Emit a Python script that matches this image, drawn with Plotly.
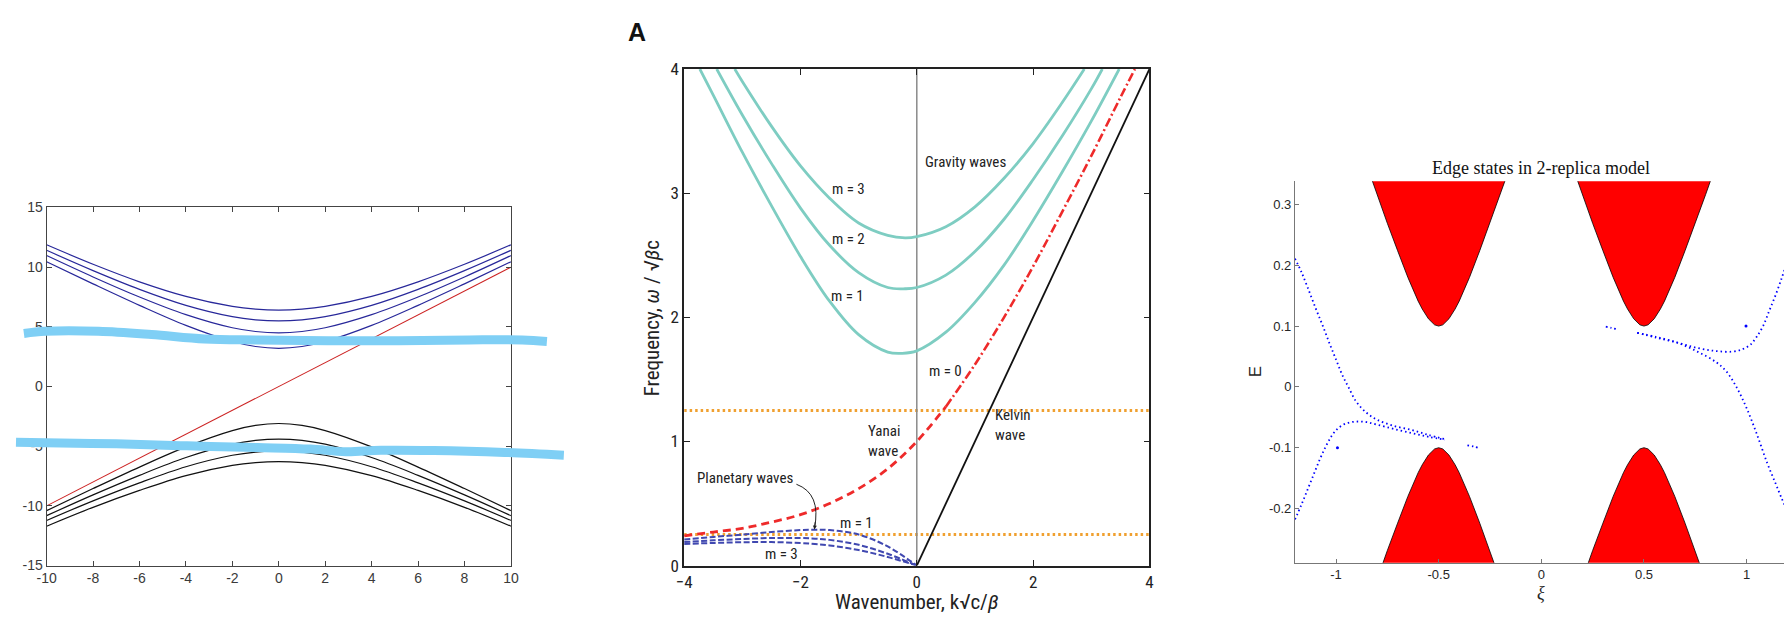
import plotly.graph_objects as go

W, H = 1792, 623

# ---------------- Panel 1 (left) data ----------------
p1_x = [-10, -8, -6, -4, -2, -1, 0, 1, 2, 4, 6, 8, 10]
blue_1 = [11.87, 10.24, 8.77, 7.55, 6.71, 6.48, 6.40, 6.48, 6.71, 7.55, 8.77, 10.24, 11.87]
blue_2 = [11.41, 9.71, 8.14, 6.80, 5.85, 5.59, 5.50, 5.59, 5.85, 6.80, 8.14, 9.71, 11.41]
blue_3 = [10.97, 9.18, 7.50, 6.02, 4.92, 4.61, 4.50, 4.61, 4.92, 6.02, 7.50, 9.18, 10.97]
blue_4 = [10.45, 8.60, 6.80, 5.12, 3.77, 3.35, 3.20, 3.35, 3.77, 5.12, 6.80, 8.60, 10.45]
black_1 = [-10.40, -8.55, -6.75, -5.06, -3.69, -3.26, -3.10, -3.26, -3.69, -5.06, -6.75, -8.55, -10.40]
black_2 = [-10.82, -9.08, -7.44, -5.95, -4.83, -4.51, -4.40, -4.51, -4.83, -5.95, -7.44, -9.08, -10.82]
black_3 = [-11.22, -9.58, -8.07, -6.72, -5.76, -5.49, -5.40, -5.49, -5.76, -6.72, -8.07, -9.58, -11.22]
black_4 = [-11.70, -10.12, -8.70, -7.46, -6.61, -6.38, -6.30, -6.38, -6.61, -7.46, -8.70, -10.12, -11.70]
red_x = [-10, 10]
red_y = [-10, 10]
# hand-drawn highlighter strokes
stroke1_x = [-10.98, -10.05, -7.76, -5.48, -3.20, -0.92, 2.12, 5.16, 8.20, 10.49, 11.55]
stroke1_y = [4.44, 4.62, 4.62, 4.35, 3.98, 3.90, 3.84, 3.84, 3.90, 3.90, 3.78]
stroke2_x = [-11.32, -10.05, -7.00, -3.96, -0.92, 1.36, 2.88, 4.40, 6.68, 9.73, 12.28]
stroke2_y = [-4.66, -4.72, -4.80, -4.97, -5.11, -5.24, -5.46, -5.34, -5.36, -5.52, -5.75]
p1_xticks = [-10, -8, -6, -4, -2, 0, 2, 4, 6, 8, 10]
p1_xlabels = ['-10', '-8', '-6', '-4', '-2', '0', '2', '4', '6', '8', '10']
p1_yticks = [-15, -10, -5, 0, 5, 10, 15]
p1_ylabels = ['-15', '-10', '-5', '0', '5', '10', '15']

# ---------------- Panel 2 (middle) data ----------------
grav1_k = [-3.73, -3.5, -3.0, -2.5, -2.0, -1.5, -1.0, -0.5, -0.25, 0.0, 0.5, 1.0, 1.5, 2.0, 2.5, 3.0, 3.48]
grav1_w = [4.00, 3.79, 3.33, 2.90, 2.49, 2.13, 1.86, 1.72, 1.71, 1.73, 1.88, 2.12, 2.42, 2.78, 3.17, 3.58, 4.00]
grav2_k = [-3.44, -3.0, -2.5, -2.0, -1.5, -1.0, -0.5, -0.2, 0.0, 0.5, 1.0, 1.5, 2.0, 2.5, 3.0, 3.19]
grav2_w = [4.00, 3.63, 3.24, 2.88, 2.58, 2.36, 2.24, 2.23, 2.24, 2.34, 2.53, 2.79, 3.11, 3.46, 3.84, 4.00]
grav3_k = [-3.13, -3.0, -2.5, -2.0, -1.5, -1.0, -0.5, -0.2, 0.0, 0.5, 1.0, 1.5, 2.0, 2.5, 2.88]
grav3_w = [4.00, 3.90, 3.54, 3.22, 2.96, 2.76, 2.66, 2.64, 2.65, 2.73, 2.89, 3.12, 3.40, 3.73, 4.00]
yanai_k_dash = [-4.0, -3.5, -3.0, -2.5, -2.0, -1.5, -1.0, -0.5, 0.0, 0.5]
yanai_w_dash = [0.24, 0.27, 0.30, 0.35, 0.41, 0.50, 0.62, 0.78, 1.00, 1.28]
yanai_k_dd = [0.5, 1.0, 1.5, 2.0, 2.5, 3.0, 3.5, 3.75]
yanai_w_dd = [1.28, 1.62, 2.00, 2.41, 2.85, 3.30, 3.77, 4.00]
plan_k = [-4.0, -3.5, -3.0, -2.5, -2.0, -1.75, -1.5, -1.0, -0.5, 0.0]
plan1_w = [0.210, 0.230, 0.250, 0.270, 0.286, 0.289, 0.286, 0.250, 0.154, 0.0]
plan2_w = [0.190, 0.203, 0.214, 0.222, 0.222, 0.217, 0.207, 0.167, 0.095, 0.0]
plan3_w = [0.174, 0.182, 0.188, 0.189, 0.182, 0.174, 0.162, 0.125, 0.069, 0.0]
kelvin_k = [0, 4]
kelvin_w = [0, 4]
orange_levels = [0.25, 1.25]
p2_xticks = [-4, -2, 0, 2, 4]
p2_yticks = [0, 1, 2, 3, 4]

# ---------------- Panel 3 (right) data ----------------
band_d = [0.0, 0.02, 0.05, 0.08, 0.10, 0.15, 0.20, 0.25, 0.30, 0.35, 0.40]
band_E = [0.100, 0.102, 0.112, 0.128, 0.141, 0.180, 0.224, 0.269, 0.316, 0.364, 0.412]
band_centers = [-0.5, 0.5]
edgeL1_xi = [-1.2, -1.17, -1.14, -1.10, -1.064, -1.03, -1.0, -0.97, -0.94, -0.90, -0.85, -0.80, -0.72, -0.63, -0.55, -0.47]
edgeL1_E = [0.211, 0.190, 0.165, 0.130, 0.100, 0.070, 0.045, 0.020, 0.000, -0.025, -0.043, -0.054, -0.064, -0.071, -0.079, -0.086]
edgeL2_xi = [-1.2, -1.17, -1.14, -1.11, -1.08, -1.05, -1.02, -0.99, -0.95, -0.90, -0.85, -0.80, -0.72, -0.63, -0.55, -0.47]
edgeL2_E = [-0.218, -0.195, -0.170, -0.145, -0.120, -0.098, -0.080, -0.068, -0.060, -0.057, -0.058, -0.062, -0.069, -0.076, -0.082, -0.087]
edgeL3_xi = [-0.36, -0.33, -0.31]
edgeL3_E = [-0.096, -0.098, -0.100]
edgeR1_xi = [0.467, 0.56, 0.66, 0.76, 0.85, 0.93, 0.98, 1.02, 1.05, 1.08, 1.11, 1.14, 1.17, 1.19]
edgeR1_E = [0.089, 0.081, 0.073, 0.064, 0.059, 0.058, 0.062, 0.070, 0.083, 0.100, 0.125, 0.150, 0.178, 0.198]
edgeR2_xi = [0.467, 0.56, 0.66, 0.76, 0.85, 0.90, 0.95, 1.00, 1.05, 1.10, 1.14, 1.169, 1.19]
edgeR2_E = [0.089, 0.082, 0.073, 0.058, 0.041, 0.026, 0.000, -0.035, -0.078, -0.125, -0.158, -0.182, -0.198]
edgeR3_xi = [0.314, 0.34, 0.368]
edgeR3_E = [0.099, 0.097, 0.095]
lone_xi = [-0.993, 0.997]
lone_E = [-0.100, 0.100]
p3_xticks = [-1, -0.5, 0, 0.5, 1]
p3_xlabels = ['-1', '-0.5', '0', '0.5', '1']
p3_yticks = [-0.2, -0.1, 0, 0.1, 0.2, 0.3]
p3_ylabels = ['-0.2', '-0.1', '0', '0.1', '0.2', '0.3']

# ---------------- styling ----------------
NARROW = "Liberation Sans Narrow, Arial Narrow, Roboto Condensed, Liberation Sans, sans-serif"
SANS = "Liberation Sans, Arial, sans-serif"
SERIF = "Liberation Serif, DejaVu Serif, serif"
NAVY = "#28289a"
TEAL = "#7ecdc2"
RED2 = "#ee2a2a"
PLAN = "#4048b0"
ORANGE = "#f0a030"

fig = go.Figure()

# ---- panel 1 ----
for ys in [blue_1, blue_2, blue_3, blue_4]:
    fig.add_trace(go.Scatter(x=p1_x, y=ys, mode="lines", xaxis="x", yaxis="y",
                             line=dict(color=NAVY, width=1.2, shape="spline"), showlegend=False))
for ys in [black_1, black_2, black_3, black_4]:
    fig.add_trace(go.Scatter(x=p1_x, y=ys, mode="lines", xaxis="x", yaxis="y",
                             line=dict(color="#111111", width=1.2, shape="spline"), showlegend=False))
fig.add_trace(go.Scatter(x=red_x, y=red_y, mode="lines", xaxis="x", yaxis="y",
                         line=dict(color="#cc2222", width=1.1), showlegend=False))
for sx, sy in [(stroke1_x, stroke1_y), (stroke2_x, stroke2_y)]:
    fig.add_trace(go.Scatter(x=sx, y=sy, mode="lines", xaxis="x4", yaxis="y4",
                             line=dict(color="#7fcff5", width=9, shape="spline"), showlegend=False))

# ---- panel 2 ----
for lev in orange_levels:
    fig.add_trace(go.Scatter(x=[-4, 4], y=[lev, lev], mode="lines", xaxis="x2", yaxis="y2",
                             line=dict(color=ORANGE, width=3, dash="2.5px,3px"), showlegend=False))
fig.add_trace(go.Scatter(x=[0, 0], y=[0, 4], mode="lines", xaxis="x2", yaxis="y2",
                         line=dict(color="#8a8a8a", width=1.5), showlegend=False))
for kk, ww in [(grav1_k, grav1_w), (grav2_k, grav2_w), (grav3_k, grav3_w)]:
    fig.add_trace(go.Scatter(x=kk, y=ww, mode="lines", xaxis="x2", yaxis="y2",
                             line=dict(color=TEAL, width=2.8, shape="spline"), showlegend=False))
for ww in [plan1_w, plan2_w, plan3_w]:
    fig.add_trace(go.Scatter(x=plan_k, y=ww, mode="lines", xaxis="x2", yaxis="y2",
                             line=dict(color=PLAN, width=2, dash="6px,2.5px", shape="spline"), showlegend=False))
fig.add_trace(go.Scatter(x=yanai_k_dash, y=yanai_w_dash, mode="lines", xaxis="x2", yaxis="y2",
                         line=dict(color=RED2, width=2.8, dash="8px,5px", shape="spline"), showlegend=False))
fig.add_trace(go.Scatter(x=yanai_k_dd, y=yanai_w_dd, mode="lines", xaxis="x2", yaxis="y2",
                         line=dict(color=RED2, width=2.6, dash="9px,3px,2px,3px", shape="spline"), showlegend=False))
fig.add_trace(go.Scatter(x=kelvin_k, y=kelvin_w, mode="lines", xaxis="x2", yaxis="y2",
                         line=dict(color="#111111", width=1.8), showlegend=False))

# ---- panel 3 ----
for c in band_centers:
    xs = [c - d for d in reversed(band_d)] + [c + d for d in band_d[1:]]
    ys_up = list(reversed(band_E)) + band_E[1:]
    fig.add_trace(go.Scatter(x=xs, y=ys_up, mode="lines", fill="toself", fillcolor="#ff0000",
                             xaxis="x3", yaxis="y3", line=dict(color="#000000", width=0.8),
                             showlegend=False))
    fig.add_trace(go.Scatter(x=xs, y=[-v for v in ys_up], mode="lines", fill="toself", fillcolor="#ff0000",
                             xaxis="x3", yaxis="y3", line=dict(color="#000000", width=0.8),
                             showlegend=False))
for xx, ee in [(edgeL1_xi, edgeL1_E), (edgeL2_xi, edgeL2_E), (edgeL3_xi, edgeL3_E),
               (edgeR1_xi, edgeR1_E), (edgeR2_xi, edgeR2_E), (edgeR3_xi, edgeR3_E)]:
    fig.add_trace(go.Scatter(x=xx, y=ee, mode="lines", xaxis="x3", yaxis="y3",
                             line=dict(color="#0000ff", width=1.8, dash="1.5px,3px", shape="spline"),
                             showlegend=False))
fig.add_trace(go.Scatter(x=lone_xi, y=lone_E, mode="markers", xaxis="x3", yaxis="y3",
                         marker=dict(color="#0000ff", size=3), showlegend=False))

# ---------------- layout ----------------
def px_x(p):
    return p / W

def px_y(p):
    return 1 - p / H

# panel 1 pixel frame
L1, R1, T1, B1 = 37, 506, 204, 574
ux = (R1 - L1) / 20.0
ov_left, ov_right = 0, 562
ov_range = [-10 - (L1 - ov_left) / ux, 10 + (ov_right - R1) / ux]

ax1 = dict(showgrid=False, zeroline=False, showline=True, mirror="ticks", linecolor="#444444",
           linewidth=1, ticks="inside", ticklen=5, tickcolor="#444444",
           tickfont=dict(family=SANS, size=14, color="#3a3a3a"))
ax2 = dict(showgrid=False, zeroline=False, showline=True, mirror="ticks", linecolor="#222222",
           linewidth=1.5, ticks="inside", ticklen=6, tickcolor="#222222",
           tickfont=dict(family=NARROW, size=17, color="#222222"))
ax3 = dict(showgrid=False, zeroline=False, showline=True, mirror=False, linecolor="#777777",
           linewidth=1, ticks="inside", ticklen=4, tickcolor="#777777",
           tickfont=dict(family=SANS, size=13, color="#262626"))

fig.update_layout(
    width=W, height=H, autosize=False,
    margin=dict(l=0, r=0, t=0, b=0),
    paper_bgcolor="white", plot_bgcolor="rgba(0,0,0,0)",
    xaxis=dict(ax1, domain=[px_x(L1), px_x(R1)], range=[-10, 10], tickvals=p1_xticks,
               ticktext=p1_xlabels, anchor="y"),
    yaxis=dict(ax1, domain=[px_y(B1), px_y(T1)], range=[-15, 15], tickvals=p1_yticks,
               ticktext=p1_ylabels, anchor="x"),
    xaxis2=dict(ax2, domain=[px_x(681), px_x(1151)], range=[-4, 4], tickvals=p2_xticks, anchor="y2"),
    yaxis2=dict(ax2, domain=[px_y(574), px_y(61)], range=[0, 4], tickvals=p2_yticks, anchor="x2"),
    xaxis3=dict(ax3, domain=[px_x(1298), 1.0], range=[-1.2, 1.182], tickvals=p3_xticks,
                ticktext=p3_xlabels, anchor="y3"),
    yaxis3=dict(ax3, domain=[px_y(571), px_y(177)], range=[-0.289, 0.338], tickvals=p3_yticks,
                ticktext=p3_ylabels, anchor="x3"),
    xaxis4=dict(domain=[px_x(ov_left), px_x(ov_right)], range=ov_range, visible=False, anchor="y4"),
    yaxis4=dict(domain=[px_y(B1), px_y(T1)], range=[-15, 15], visible=False, anchor="x4"),
)

ann = []
def txt(text, x, y, size=15, xanchor="center", align="center", family=NARROW, ref=("x2", "y2"),
        color="#222222", angle=0, yanchor="middle"):
    ann.append(dict(text=text, x=x, y=y, xref=ref[0], yref=ref[1], showarrow=False,
                    xanchor=xanchor, yanchor=yanchor, align=align, textangle=angle,
                    font=dict(family=family, size=size, color=color)))

txt("Gravity waves", 0.83, 3.25)
txt("m = 3", -1.17, 3.03)
txt("m = 2", -1.17, 2.63)
txt("m = 1", -1.19, 2.17)
txt("m = 0", 0.49, 1.565)
txt("Kelvin<br>wave", 1.31, 1.13, xanchor="left", align="left")
txt("Yanai<br>wave", -0.87, 1.005, xanchor="left", align="left")
txt("Planetary waves", -2.96, 0.705)
txt("m = 1", -1.03, 0.343)
txt("m = 3", -2.32, 0.096)
# panel titles / axis titles in paper coordinates
txt("<b>A</b>", px_x(633), px_y(23), size=25, family="Liberation Sans, Arial, sans-serif",
    ref=("paper", "paper"), color="#111111")
txt("Frequency, <i>ω</i> / √<i>β</i>c", px_x(648), px_y(318), size=21, ref=("paper", "paper"), angle=-90)
txt("Wavenumber, k√c/<i>β</i>", px_x(916), px_y(612), size=21, ref=("paper", "paper"))
txt("Edge states in 2-replica model", px_x(1547), px_y(163), size=18, family=SERIF,
    ref=("paper", "paper"), color="#111111")
txt("E", px_x(1259), px_y(374), size=17, family=SANS, ref=("paper", "paper"), angle=-90,
    color="#262626")
txt("<i>ξ</i>", px_x(1547), px_y(602), size=18, family=SERIF, ref=("paper", "paper"), color="#262626")

# arrowhead for the planetary-waves pointer
ann.append(dict(x=-1.76, y=0.29, xref="x2", yref="y2", ax=1, ay=-9, text="", showarrow=True,
                arrowhead=2, arrowsize=0.8, arrowwidth=1, arrowcolor="#222222", standoff=0))
fig.update_layout(annotations=ann)

fig.update_layout(shapes=[dict(type="path", xref="x2", yref="y2",
                               path="M -2.07,0.655 Q -1.64,0.58 -1.76,0.30",
                               line=dict(color="#222222", width=1))])

fig.write_html("out.html", config={"displayModeBar": False},
               post_script="document.body.style.margin='0px';document.body.style.overflow='hidden';")
